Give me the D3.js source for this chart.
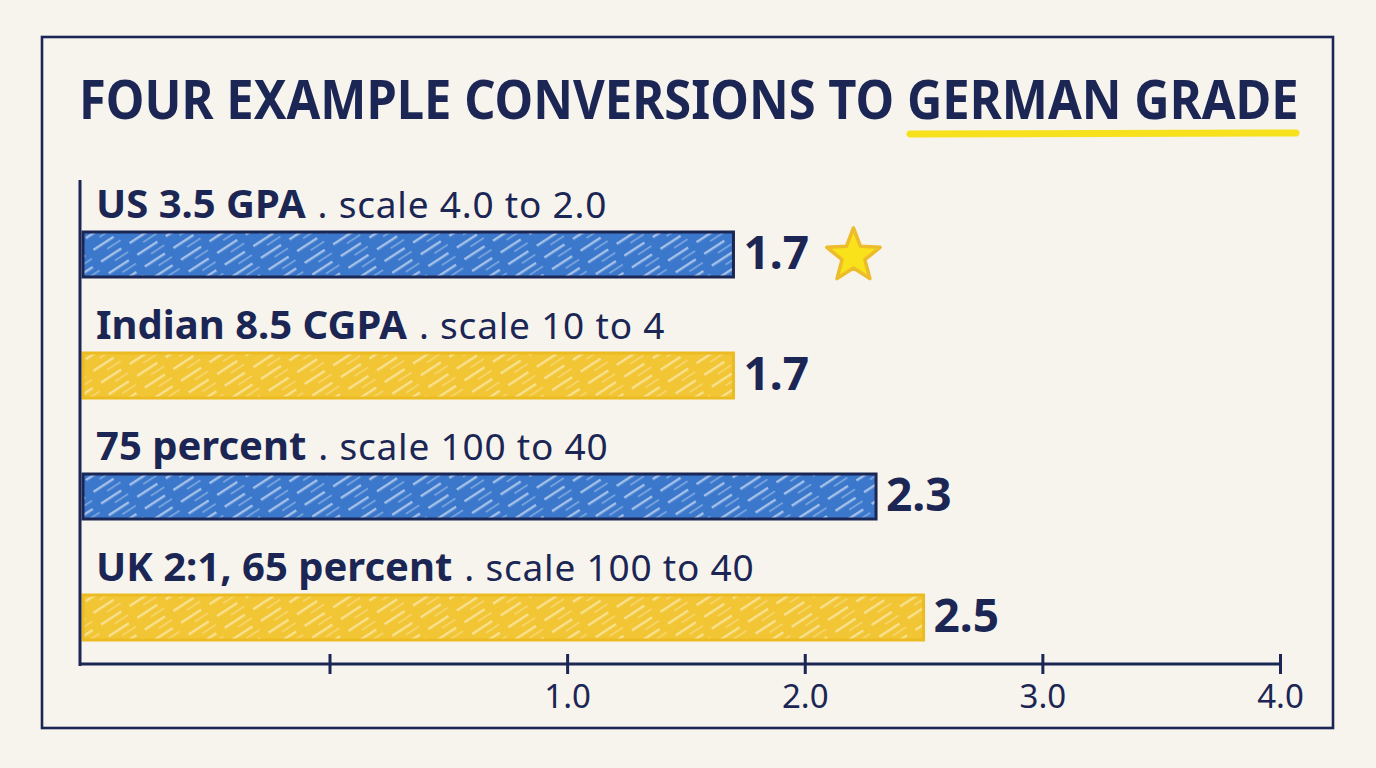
<!DOCTYPE html>
<html>
<head>
<meta charset="utf-8">
<script src="https://cdnjs.cloudflare.com/ajax/libs/d3/7.8.5/d3.min.js"></script>
<style>
  html, body { margin: 0; padding: 0; background: #f7f4ed; }
  svg { display: block; }
</style>
</head>
<body>
<div id="chart"></div>
<script>
// data
var categories = ["US 3.5 GPA", "Indian 8.5 CGPA", "75 percent", "UK 2:1, 65 percent"];
var scaleNotes = [". scale 4.0 to 2.0", ". scale 10 to 4", ". scale 100 to 40", ". scale 100 to 40"];
var germanGrade = [1.7, 1.7, 2.3, 2.5];
var starred = [true, false, false, false];
var tickValues = [0, 1, 2, 3, 4];
var tickLabels = ["", "1.0", "2.0", "3.0", "4.0"];

var W = 1376, H = 768;
var navy = "#1b2654", blue = "#3b78cc", yellow = "#f2c534";
var font = "'Noto Sans', 'DejaVu Sans', sans-serif";

var svg = d3.select("#chart").append("svg").attr("width", W).attr("height", H)
  .style("background", "#f7f4ed");

// hatch patterns (sketchy diagonal streaks)
var defs = svg.append("defs");
function hatch(id, base, streak) {
  var p = defs.append("pattern").attr("id", id)
    .attr("patternUnits", "userSpaceOnUse").attr("width", 34).attr("height", 14)
    .attr("patternTransform", "rotate(-33)");
  p.append("rect").attr("width", 34).attr("height", 14).attr("fill", base);
  p.append("rect").attr("x", 2).attr("y", 3).attr("width", 24).attr("height", 2.4).attr("fill", streak).attr("opacity", 0.65);
  p.append("rect").attr("x", 14).attr("y", 10).attr("width", 16).attr("height", 1.5).attr("fill", streak).attr("opacity", 0.45);
}
hatch("hBlue", blue, "#dfe9f8");
hatch("hYellow", yellow, "#fdf0c2");

// frame
svg.append("rect").attr("x", 42).attr("y", 37).attr("width", 1291).attr("height", 691)
  .attr("fill", "none").attr("stroke", navy).attr("stroke-width", 2.6);

// title: squeeze horizontally to fit the width, like a condensed face
svg.append("line").attr("x1", 910).attr("x2", 1296).attr("y1", 134).attr("y2", 133)
  .attr("stroke", "#f6e11c").attr("stroke-width", 7).attr("stroke-linecap", "round");
var title = svg.append("text").attr("x", 0).attr("y", 0)
  .attr("font-family", font).attr("font-weight", 700).attr("font-size", 53)
  .attr("fill", navy)
  .text("FOUR EXAMPLE CONVERSIONS TO GERMAN GRADE");
var tw = title.node().getComputedTextLength();
title.attr("transform", "translate(79,119) scale(" + Math.min(1, 1220 / tw) + ",1)");

// scales
var x = d3.scaleLinear().domain([-1.05, 4]).range([80, 1280]);
var y = d3.scaleBand().domain(categories).range([172, 656]);

var g = svg.append("g");
var rows = g.selectAll(".row").data(categories).enter().append("g").attr("class", "row")
  .attr("transform", function (d) { return "translate(0," + y(d) + ")"; });

rows.append("rect")
  .attr("x", x(-1.05) + 3).attr("y", 60).attr("height", 45)
  .attr("width", function (d, i) { return x(germanGrade[i]) - x(-1.05) - 3; })
  .attr("fill", function (d, i) { return i % 2 ? "url(#hYellow)" : "url(#hBlue)"; })
  .attr("stroke", function (d, i) { return i % 2 ? "#ecbb22" : navy; })
  .attr("stroke-width", 3);

var lab = rows.append("text").attr("x", 96).attr("y", 46)
  .attr("font-family", font).attr("fill", navy);
lab.append("tspan").attr("font-weight", 700).attr("font-size", 40).text(function (d) { return d; });
lab.append("tspan").attr("font-size", 37).attr("dx", 12).attr("letter-spacing", 0.8)
  .text(function (d, i) { return scaleNotes[i]; });

rows.append("text")
  .attr("x", function (d, i) { return x(germanGrade[i]) + 10; }).attr("y", 97)
  .attr("font-family", font).attr("font-weight", 700).attr("font-size", 46).attr("fill", navy)
  .text(function (d, i) { return germanGrade[i].toFixed(1); });

// star
function starPath(cx, cy, R, r) {
  var pts = [];
  for (var k = 0; k < 10; k++) {
    var a = -Math.PI / 2 + k * Math.PI / 5, rr = k % 2 ? r : R;
    pts.push([cx + rr * Math.cos(a), cy + rr * Math.sin(a)]);
  }
  return d3.line().curve(d3.curveLinearClosed)(pts);
}
rows.filter(function (d, i) { return starred[i]; }).append("path")
  .attr("d", function (d) { return starPath(x(germanGrade[categories.indexOf(d)]) + 120, 84, 28, 12); })
  .attr("fill", "#fae21a").attr("stroke", "#ecbc2a").attr("stroke-width", 3.5)
  .attr("stroke-linejoin", "round");

// axes
svg.append("line").attr("x1", 80).attr("x2", 80).attr("y1", 180).attr("y2", 666)
  .attr("stroke", navy).attr("stroke-width", 3);
var ax = svg.append("g").attr("transform", "translate(0,664)")
  .call(d3.axisBottom(x).tickValues(tickValues).tickSizeOuter(0)
    .tickFormat(function (d, i) { return tickLabels[i]; }));
ax.select(".domain").attr("stroke", navy).attr("stroke-width", 3)
  .attr("d", "M" + x(-1.05) + ",0H" + x(4));
ax.selectAll(".tick line").attr("stroke", navy).attr("stroke-width", 3)
  .attr("y1", -10).attr("y2", 10);
ax.selectAll(".tick text").attr("fill", navy).attr("font-family", font)
  .attr("font-size", 33).attr("y", 44).attr("dy", 0);
</script>
</body>
</html>
